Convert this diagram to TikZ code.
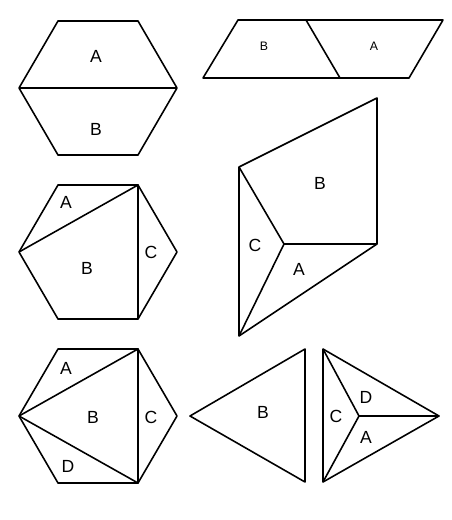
\documentclass[tikz,border=0pt]{standalone}
\usepackage{fontspec}
\setmainfont{Liberation Sans}
\begin{document}
\begin{tikzpicture}[x=0.02cm,y=-0.02cm,line width=0.9pt,line join=round,
    lb/.style={font=\fontsize{10}{11}\selectfont},
    sm/.style={font=\fontsize{7}{8}\selectfont}]
    \useasboundingbox (0,0) rectangle (451,520);
    % the three hexagons
    \foreach \n/\cy in {1/88,2/252,3/416} {
        \coordinate (tl\n) at (58,\cy-67);
        \coordinate (tr\n) at (138,\cy-67);
        \coordinate (r\n) at (177,\cy);
        \coordinate (br\n) at (138,\cy+67);
        \coordinate (bl\n) at (58,\cy+67);
        \coordinate (l\n) at (19,\cy);
        \draw (tl\n) -- (tr\n) -- (r\n) -- (br\n) -- (bl\n) -- (l\n) -- cycle;
    }
    \draw (l1) -- (r1);
    \draw (l2) -- (tr2) -- (br2);
    \draw (l3) -- (tr3) -- (br3) -- (l3);
    \node[lb] at (96,56) {A};
    \node[lb] at (96,129) {B};
    \node[lb] at (66,202) {A};
    \node[lb] at (87,268) {B};
    \node[lb] at (151,252) {C};
    \node[lb] at (66,368) {A};
    \node[lb] at (93,417) {B};
    \node[lb] at (151,417) {C};
    \node[lb] at (68,466) {D};
    % parallelogram
    \coordinate (p1) at (238,20);
    \coordinate (p2) at (443,20);
    \coordinate (p3) at (409,78);
    \coordinate (p4) at (203,78);
    \draw (p1) -- (p2) -- (p3) -- (p4) -- cycle;
    \draw (306,20) coordinate (pm1) -- (340,78) coordinate (pm2);
    \node[sm] at (264,46) {B};
    \node[sm] at (374,46) {A};
    % rhombus
    \coordinate (q1) at (239,167);
    \coordinate (q2) at (377,98);
    \coordinate (q3) at (377,244);
    \coordinate (q4) at (239,336);
    \coordinate (qc) at (284,244);
    \draw (q1) -- (q2) -- (q3) -- (q4) -- cycle;
    \draw (q1) -- (qc) -- (q4);
    \draw (qc) -- (q3);
    \node[lb] at (320,183) {B};
    \node[lb] at (255,245) {C};
    \node[lb] at (299,269) {A};
    % triangle
    \coordinate (t1) at (190,416);
    \coordinate (t2) at (305,349);
    \coordinate (t3) at (305,482);
    \draw (t1) -- (t2) -- (t3) -- cycle;
    \node[lb] at (263,412) {B};
    % kite
    \coordinate (k1) at (323,349);
    \coordinate (k2) at (439,416);
    \coordinate (k3) at (323,482);
    \coordinate (kc) at (359,416);
    \draw (k1) -- (k2) -- (k3) -- cycle;
    \draw (k1) -- (kc) -- (k3);
    \draw (kc) -- (k2);
    \node[lb] at (336,416) {C};
    \node[lb] at (366,397) {D};
    \node[lb] at (366,437) {A};
\end{tikzpicture}
\end{document}
